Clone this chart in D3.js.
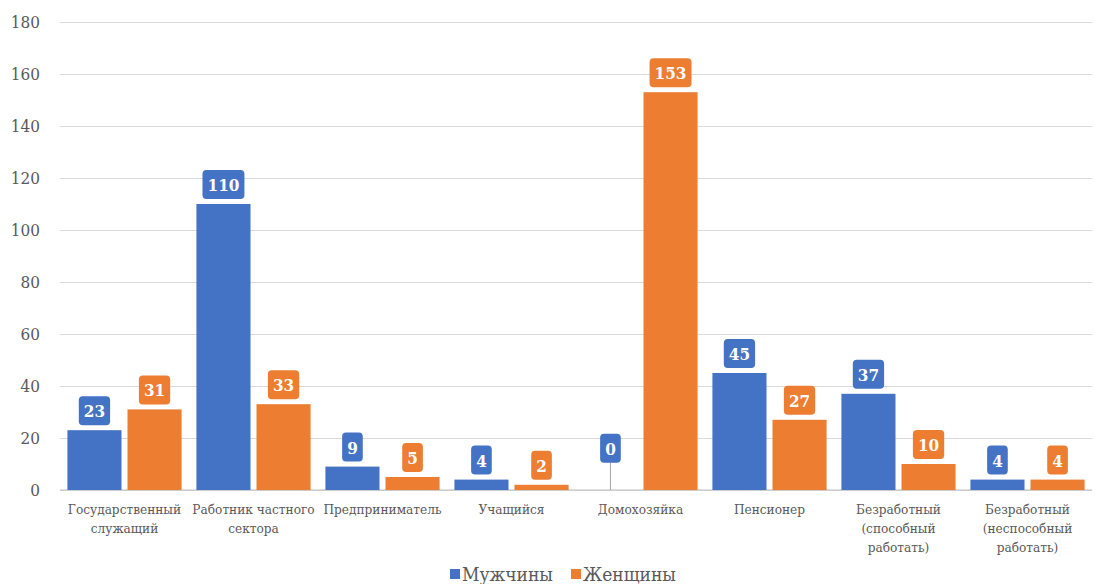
<!DOCTYPE html>
<html lang="ru">
<head>
<meta charset="utf-8">
<script src="https://cdn.jsdelivr.net/npm/d3@7"></script>
<style>
  html, body { margin: 0; padding: 0; background: #ffffff; }
</style>
</head>
<body>
<svg id="chart" width="1095" height="584"></svg>
<script>
// Occupation categories (each entry is a list of wrapped label lines)
const categories = [
  ["Государственный", "служащий"],
  ["Работник частного", "сектора"],
  ["Предприниматель"],
  ["Учащийся"],
  ["Домохозяйка"],
  ["Пенсионер"],
  ["Безработный", "(способный", "работать)"],
  ["Безработный", "(неспособный", "работать)"]
];
const seriesNames = ["Мужчины", "Женщины"];
const men   = [23, 110, 9, 4, 0, 45, 37, 4];
const women = [31, 33, 5, 2, 153, 27, 10, 4];
const yTicks = [0, 20, 40, 60, 80, 100, 120, 140, 160, 180];

const FONT = "'DejaVu Serif Condensed', 'DejaVu Serif', serif";
const colors = ["#4472C4", "#ED7D31"];
const svg = d3.select("#chart");
const margin = { left: 60, right: 3, top: 22, bottom: 94 };
const W = 1095, H = 584;

const x = d3.scaleBand()
  .domain(d3.range(categories.length))
  .range([margin.left, W - margin.right])
  .paddingInner(0.115)
  .paddingOuter(0.0575);
const xOuter = d3.scaleBand()
  .domain(d3.range(categories.length))
  .range([margin.left, W - margin.right]);
const xs = d3.scaleBand()
  .domain(d3.range(seriesNames.length))
  .range([0, x.bandwidth()])
  .paddingInner(0.1);
const y = d3.scaleLinear().domain([0, 180]).range([H - margin.bottom, margin.top]);

// Horizontal gridlines and value axis labels
const yAxis = d3.axisLeft(y).tickValues(yTicks).tickSize(-(W - margin.left - margin.right)).tickPadding(20);
const gy = svg.append("g").attr("transform", `translate(${margin.left},0)`).call(yAxis)
  .attr("font-family", FONT).attr("font-size", 17);
gy.select(".domain").remove();
gy.selectAll(".tick line").attr("stroke", "#d9d9d9").attr("stroke-width", 1);
gy.selectAll(".tick text").attr("fill", "#595959");

// Baseline
svg.append("line")
  .attr("x1", margin.left).attr("x2", W - margin.right)
  .attr("y1", y(0)).attr("y2", y(0))
  .attr("stroke", "#bfbfbf");

// Bars
const rows = [men, women];
rows.forEach((vals, s) => {
  svg.append("g").selectAll("rect")
    .data(vals)
    .join("rect")
    .attr("x", (d, i) => x(i) + xs(s))
    .attr("y", d => y(d))
    .attr("width", xs.bandwidth())
    .attr("height", d => y(0) - y(d))
    .attr("fill", colors[s]);
});

// Value labels in rounded boxes (a zero value gets a raised box with a leader line)
rows.forEach((vals, s) => {
  const g = svg.append("g");
  vals.forEach((v, i) => {
    const cx = x(i) + xs(s) + xs.bandwidth() / 2;
    const isZero = v === 0;
    const bottom = isZero ? y(10.5) : y(v) - 5;
    const lg = g.append("g");
    if (isZero) {
      lg.append("line")
        .attr("x1", cx).attr("x2", cx)
        .attr("y1", bottom).attr("y2", y(0))
        .attr("stroke", "#a6a6a6").attr("stroke-width", 1);
    }
    const rect = lg.append("rect").attr("fill", colors[s]).attr("rx", 4).attr("ry", 4);
    const t = lg.append("text")
      .attr("x", cx)
      .attr("y", bottom - 8)
      .attr("text-anchor", "middle")
      .attr("fill", "#ffffff")
      .attr("font-family", FONT)
      .attr("font-weight", "bold")
      .attr("font-size", 17)
      .text(v);
    const tw = t.node().getComputedTextLength();
    const bw = tw + 10;
    rect.attr("x", cx - bw / 2).attr("y", bottom - 29).attr("width", bw).attr("height", 29);
  });
});

// Category labels
const gx = svg.append("g");
categories.forEach((lines, i) => {
  const cx = xOuter(i) + xOuter.bandwidth() / 2;
  const t = gx.append("text")
    .attr("text-anchor", "middle")
    .attr("fill", "#595959")
    .attr("font-family", FONT)
    .attr("font-size", 13.5);
  lines.forEach((ln, k) => {
    t.append("tspan").attr("x", cx).attr("y", 514 + k * 19).text(ln);
  });
});

// Legend
const legend = svg.append("g");
let lx = 450;
seriesNames.forEach((name, s) => {
  legend.append("rect").attr("x", lx).attr("y", 569).attr("width", 10).attr("height", 10).attr("fill", colors[s]);
  const t = legend.append("text")
    .attr("x", lx + 12).attr("y", 581)
    .attr("fill", "#595959")
    .attr("font-family", FONT)
    .attr("font-size", 19)
    .text(name);
  lx += 12 + t.node().getComputedTextLength() + 18;
});
</script>
</body>
</html>
